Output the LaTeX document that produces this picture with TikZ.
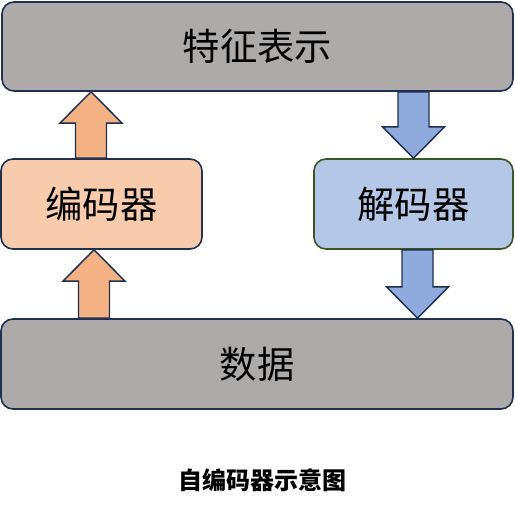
\documentclass[tikz,border=0pt]{standalone}
\usepackage{fontspec}
\newfontfamily\cjk{Noto Sans CJK SC}
\usetikzlibrary{calc,positioning}
\definecolor{navy}{HTML}{1F3050}
\definecolor{grayfill}{HTML}{AEAAAA}
\definecolor{encfill}{HTML}{F8CBAD}
\definecolor{encarrfill}{HTML}{F4B183}
\definecolor{decfill}{HTML}{B4C7E7}
\definecolor{decarrfill}{HTML}{8FAADC}
\definecolor{decline}{HTML}{385723}
\tikzset{
	box/.style={draw=navy, line width=1.2pt, rounded corners=9pt, font=\cjk\fontsize{28}{32}\selectfont, inner sep=0pt},
	encarrow/.style={draw=navy, line width=1.1pt, fill=encarrfill, line join=miter},
	decarrow/.style={draw=navy, line width=1.1pt, fill=decarrfill, line join=miter}
}
\newcommand{\sw}{15.5}
\newcommand{\hw}{31}
\newcommand{\hl}{23.5pt}
% block arrow from #2 to #3
\newcommand{\blockarrow}[3]{%
	\draw[#1] ($(#2)+(-\sw,0)$) -- ($($(#3)!\hl!(#2)$)+(-\sw,0)$) -- ($($(#3)!\hl!(#2)$)+(-\hw,0)$) -- (#3)
		-- ($($(#3)!\hl!(#2)$)+(\hw,0)$) -- ($($(#3)!\hl!(#2)$)+(\sw,0)$) -- ($(#2)+(\sw,0)$) -- cycle;}
\begin{document}
\begin{tikzpicture}[x=0.75pt, y=-0.75pt]
	\useasboundingbox (0,0) rectangle (515,510);
	
	\node[box, fill=grayfill, minimum width=511*0.75pt, minimum height=89*0.75pt] (feat) at (257.5,46.5) {特征表示};
	\node[box, fill=encfill, minimum width=201*0.75pt, minimum height=90*0.75pt] (enc) at (101.5,204) {编码器};
	\node[box, fill=decfill, draw=decline, minimum width=199*0.75pt, minimum height=90*0.75pt] (dec) at (413.5,204) {解码器};
	\node[box, fill=grayfill, minimum width=512*0.75pt, minimum height=90*0.75pt] (data) at (257,364) {数据};
	
	\node[font=\cjk\bfseries\fontsize{18}{22}\selectfont] (cap) at (262,480) {自编码器示意图};
	
	\coordinate (e1) at ($(data.north)+(-163,0)$);
	\coordinate (e2) at ($(enc.north)+(-10.5,0)$);
	\coordinate (d1) at ($(feat.south)+(156,0)$);
	\coordinate (d2) at ($(dec.south)+(4,0)$);
	
	\blockarrow{encarrow}{e1}{e1 |- enc.south}
	\blockarrow{encarrow}{e2}{e2 |- feat.south}
	\blockarrow{decarrow}{d1}{d1 |- dec.north}
	\blockarrow{decarrow}{d2}{d2 |- data.north}
\end{tikzpicture}
\end{document}
